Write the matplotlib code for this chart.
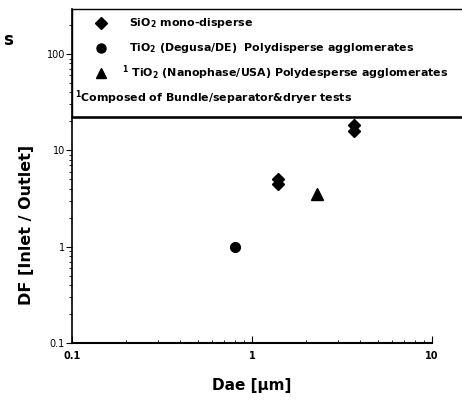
import matplotlib.pyplot as plt
from matplotlib.lines import Line2D
from matplotlib.patches import Rectangle

# data
sio2_dae = [1.39, 1.39, 3.7, 3.7]
sio2_df = [5.1, 4.5, 18.2, 15.8]
tio2_degusa_dae = [0.8]
tio2_degusa_df = [1.0]
tio2_nano_dae = [2.3]
tio2_nano_df = [3.5]

legend_labels = [
    r'SiO$_2$ mono-disperse',
    r'TiO$_2$ (Degusa/DE)  Polydisperse agglomerates',
    r'$^1$ TiO$_2$ (Nanophase/USA) Polydesperse agglomerates',
]
footnote = r'$^1$Composed of Bundle/separator&dryer tests'

plt.rcParams['font.family'] = 'DejaVu Sans'
plt.rcParams['mathtext.default'] = 'bf'

fig = plt.figure(figsize=(4.62, 4.03), dpi=100)
ax = fig.add_axes([72 / 462, 60 / 403, 360 / 462, 334 / 403])

ax.plot(sio2_dae, sio2_df, 'D', color='black', markersize=6.5)
ax.plot(tio2_degusa_dae, tio2_degusa_df, 'o', color='black', markersize=7)
ax.plot(tio2_nano_dae, tio2_nano_df, '^', color='black', markersize=8)

ax.set_xscale('log')
ax.set_yscale('log')
ax.set_xlim(0.1, 10)
ax.set_ylim(0.1, 10 ** ((246 - 9) / 96.0))
ax.set_xticks([0.1, 1, 10])
ax.set_xticklabels(['0.1', '1', '10'], fontweight='bold', fontsize=7)
ax.set_yticks([0.1, 1, 10, 100])
ax.set_yticklabels(['0.1', '1', '10', '100'], fontsize=7)
ax.tick_params(axis='x', which='both', direction='in', pad=6)
ax.tick_params(axis='x', which='major', length=5)
ax.tick_params(axis='x', which='minor', length=2.5)
ax.tick_params(axis='y', which='major', direction='out', length=4, pad=1)
ax.tick_params(axis='y', which='minor', direction='out', length=2)
ax.spines['top'].set_visible(False)
ax.spines['right'].set_visible(False)
ax.spines['left'].set_linewidth(1.2)
ax.spines['bottom'].set_linewidth(1.5)

ax.set_xlabel('Dae [µm]', fontsize=11, fontweight='bold', labelpad=12)
ax.set_ylabel('DF [Inlet / Outlet]', fontsize=11.5, fontweight='bold')
ax.yaxis.set_label_coords(-0.106, (343 - 225) / 334)

# legend box over the top of the plot
box = Rectangle((72 / 462, (403 - 117) / 403), 1.0, 108 / 403,
                transform=fig.transFigure, facecolor='white', edgecolor='black',
                linewidth=1.0, zorder=10)
fig.add_artist(box)
fig.add_artist(Line2D([72 / 462, 1.0], [(403 - 117) / 403] * 2, transform=fig.transFigure,
                      color='black', linewidth=1.8, zorder=11))

markers = ['D', 'o', '^']
sizes = [6.5, 6.5, 7.5]
rows_y = [23, 48, 73]
for m, s, yy, lab in zip(markers, sizes, rows_y, legend_labels):
    fig.add_artist(Line2D([101 / 462], [(403 - yy) / 403], marker=m, color='black',
                          markersize=s, linestyle='none', transform=fig.transFigure, zorder=12))
    fig.text(129 / 462 if m != '^' else 122 / 462, (403 - yy) / 403, lab, fontsize=7.9,
             fontweight='bold', va='center', ha='left', zorder=12)
fig.text(75 / 462, (403 - 98) / 403, footnote, fontsize=7.9, fontweight='bold',
         va='center', ha='left', zorder=12)

# stray letter at the left edge of the scan
fig.text(3 / 462, (403 - 40) / 403, 's', fontsize=12, fontweight='bold', va='center')

fig.savefig('out.png', dpi=100)
